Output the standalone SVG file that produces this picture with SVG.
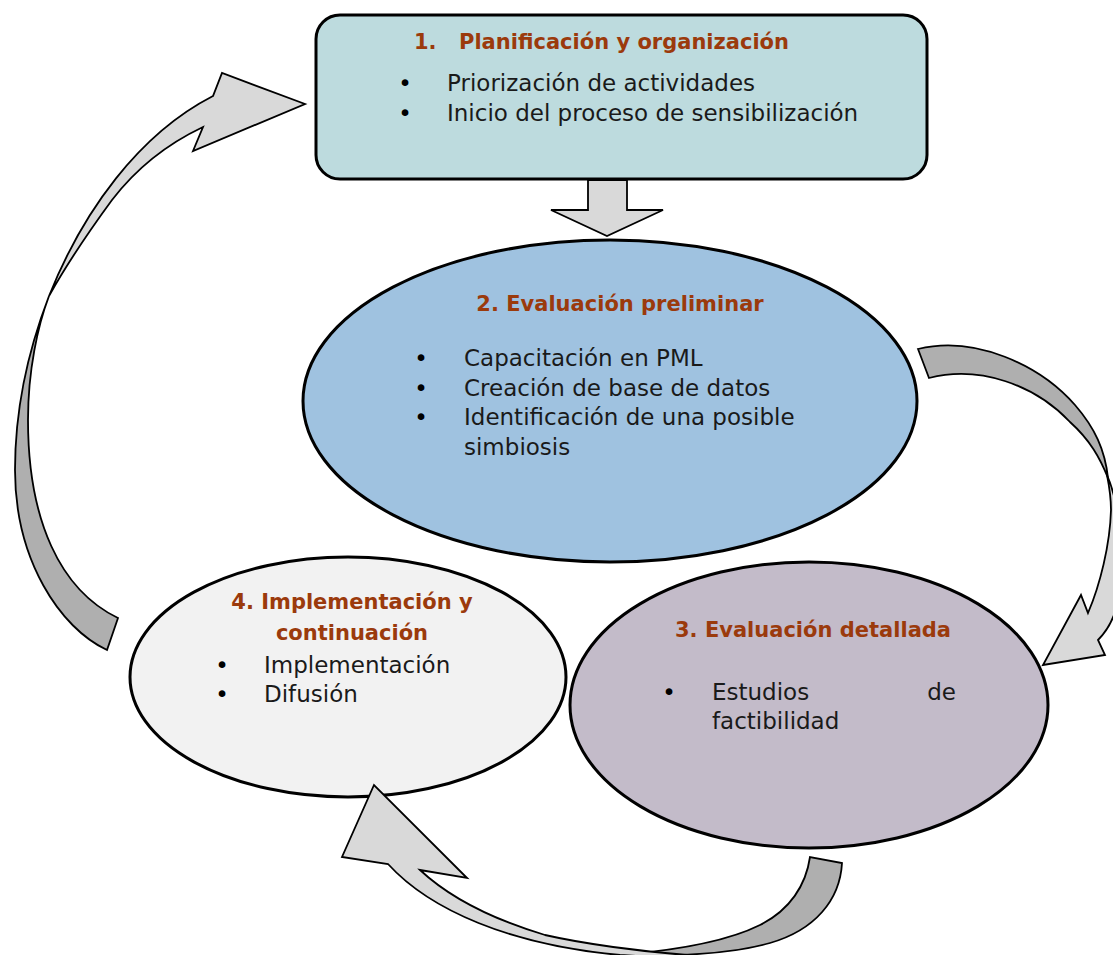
<svg xmlns="http://www.w3.org/2000/svg" width="1113" height="955" viewBox="0 0 1113 955">
<style>
.node{stroke:#000;stroke-width:3}
.ttl{font-family:"DejaVu Sans","Liberation Sans",sans-serif;font-weight:bold;font-size:21px;fill:#9b3a0c}
.txt{font-family:"DejaVu Sans","Liberation Sans",sans-serif;font-size:23px;fill:#1a1a1a}
.bul{font-family:"DejaVu Sans","Liberation Sans",sans-serif;font-size:23px;fill:#000;text-anchor:middle}
.dark{fill:#afafaf;stroke:#000;stroke-width:1.8;stroke-linejoin:miter}
.light{fill:#d9d9d9;stroke:#000;stroke-width:1.8;stroke-linejoin:miter}
</style>
<rect width="1113" height="955" fill="#fff"/>

<g id="node1">
<rect class="node" x="316" y="15" width="611" height="164" rx="24" fill="#bddbde"/>
<text class="ttl" x="414" y="49">1.</text>
<text class="ttl" x="459" y="49">Planificación y organización</text>
<text class="bul" x="405" y="91">•</text>
<text class="txt" x="447" y="91">Priorización de actividades</text>
<text class="bul" x="405" y="121">•</text>
<text class="txt" x="447" y="121">Inicio del proceso de sensibilización</text>
</g>

<g id="node2">
<ellipse class="node" cx="610" cy="401" rx="307" ry="161" fill="#9fc2e0"/>
<text class="ttl" x="620" y="311" text-anchor="middle">2. Evaluación preliminar</text>
<text class="bul" x="421" y="366">•</text>
<text class="txt" x="464" y="366">Capacitación en PML</text>
<text class="bul" x="421" y="396">•</text>
<text class="txt" x="464" y="396">Creación de base de datos</text>
<text class="bul" x="421" y="425">•</text>
<text class="txt" x="464" y="425">Identificación de una posible</text>
<text class="txt" x="464" y="455">simbiosis</text>
</g>

<g id="node4">
<ellipse class="node" cx="348" cy="677" rx="218" ry="120" fill="#f2f2f2"/>
<text class="ttl" x="352" y="609" text-anchor="middle">4. Implementación y</text>
<text class="ttl" x="352" y="640" text-anchor="middle">continuación</text>
<text class="bul" x="222" y="673">•</text>
<text class="txt" x="264" y="673">Implementación</text>
<text class="bul" x="222" y="702">•</text>
<text class="txt" x="264" y="702">Difusión</text>
</g>

<g id="node3">
<ellipse class="node" cx="809" cy="705" rx="239" ry="143" fill="#c3bbc9"/>
<text class="ttl" x="813" y="637" text-anchor="middle">3. Evaluación detallada</text>
<text class="bul" x="669" y="700">•</text>
<text class="txt" x="712" y="700">Estudios</text>
<text class="txt" x="956" y="700" text-anchor="end">de</text>
<text class="txt" x="712" y="729">factibilidad</text>
</g>

<g id="connectors">
<path class="light" stroke-width="2" d="M588,180 L627,180 L627,210 L663,210 L607,236 L551,210 L588,210 Z"/>
<g id="arrow-4-1">
<path class="dark" d="M107,650 C60,628 15,560 15,470 C15,414 27,353 49,296 C38,325 28,370 28,420 C28,520 60,590 118,618 Z"/>
<path class="light" d="M49,296 C83,211 139,134 213,96 L222,73 L305,104 L193,151 L203,127 C165,145 135,170 112,200 C90,230 68,262 49,296 Z"/>
</g>
<g id="arrow-2-3">
<path class="dark" d="M918,349 C975,335 1040,365 1075,405 C1095,428 1105,450 1108,478 C1100,458 1090,440 1070,422 C1035,385 980,365 929,378 Z"/>
<path class="light" d="M1107,475 C1118,500 1125,550 1120,590 C1117,615 1108,630 1098,640 L1105,655 L1043,665 L1081,595 L1088,613 C1100,585 1110,545 1111,510 C1111,495 1109,485 1107,475 Z"/>
</g>
<g id="arrow-3-4">
<path class="dark" d="M842,863 C840,900 815,930 770,943 C735,953 690,957 620,955 C680,950 730,940 760,925 C790,910 806,885 810,857 Z"/>
<path class="light" d="M388,864 C430,910 510,945 620,955 C650,957 680,957 700,956 C640,952 580,943 545,935 C495,920 450,898 420,870 L467,878 L374,785 L342,857 Z"/>
</g>
</g>
</svg>
